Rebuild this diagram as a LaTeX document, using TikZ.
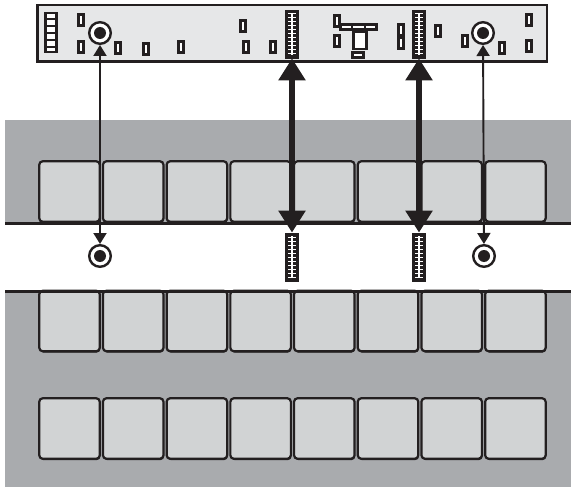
\documentclass[tikz,border=0pt]{standalone}
\usetikzlibrary{arrows.meta,shadows}
\definecolor{bandgray}{HTML}{A9ABAE}
\definecolor{tilegray}{HTML}{D1D3D4}
\definecolor{panelgray}{HTML}{E6E7E8}
\definecolor{inkblack}{HTML}{231F20}
\tikzset{%
	tile/.style     = {draw=inkblack, line width=2.2pt, fill=tilegray, rounded corners=3.5pt,
		minimum width=60.5pt, minimum height=60.5pt, inner sep=0pt, outer sep=0pt,
		drop shadow={shadow xshift=.6pt, shadow yshift=-1.3pt, fill=inkblack, opacity=1}},
	pin/.style      = {draw=inkblack, line width=2.6pt, fill=white, minimum width=5.4pt,
		minimum height=11.4pt, inner sep=0pt, outer sep=0pt},
	slot/.style     = {draw=inkblack, line width=2.6pt, fill=white, inner sep=0pt, outer sep=0pt},
	socket/.style   = {draw=inkblack, circle, line width=2.4pt, fill=white, minimum size=21.6pt,
		inner sep=0pt, outer sep=1.2pt},
	bar/.style      = {draw=inkblack, line width=.8pt, fill=inkblack, minimum width=13pt,
		minimum height=48pt, inner sep=0pt, outer sep=.4pt},
	thinlink/.style = {draw=inkblack, line width=1.9pt, {Triangle[length=11pt,width=13pt]}-{Triangle[length=11pt,width=13pt]}},
	fatlink/.style  = {draw=inkblack, line width=5.5pt, {Triangle[length=22pt,width=26pt]}-{Triangle[length=22pt,width=26pt]}}
}
\newcommand{\ladder}[3]{% name, x, y
	\node[bar] (#1) at (#2,#3) {};
	\draw[white, line width=1.5pt] (#2,#3-21) -- (#2,#3+21);
	\foreach \k in {-20,-16,...,20}
		\draw[white, line width=1pt] (#2-3.8,#3+\k) -- (#2+3.8,#3+\k);
}
\newcommand{\target}[3]{% name, x, y
	\node[socket] (#1) at (#2,#3) {};
	\fill[inkblack] (#2,#3) circle (6);
}

\begin{document}
\begin{tikzpicture}[x=1pt,y=-1pt]
	\useasboundingbox (0,0) rectangle (571,487);

	% grey bands
	\fill[bandgray] (5,120) rectangle (571,223);
	\fill[bandgray] (5,291) rectangle (571,487);

	% tiles
	\foreach \i in {0,...,7} {
		\node[tile] (upper\i) at (69.5+63.7*\i,191.5) {};
		\node[tile] (middle\i) at (69.5+63.7*\i,321) {};
		\node[tile] (lower\i) at (69.5+63.7*\i,428.5) {};
	}
	\draw[inkblack, line width=3pt] (5,223.5) -- (571,223.5);
	\draw[inkblack, line width=3pt] (5,291.5) -- (571,291.5);

	% panel
	\node[draw=inkblack, line width=2.5pt, fill=panelgray, minimum width=509.5pt, minimum height=56.5pt,
		inner sep=0pt] (panel) at (292,33.5) {};

	% parts on the panel
	\node[slot, minimum width=11pt, minimum height=39pt] (stack) at (51,32.5) {};
	\foreach \y in {19,26,33,40,47}
		\draw[inkblack, line width=2.6pt] (45,\y) -- (57,\y);
	\foreach \x/\y [count=\n] in {81/20, 81/47, 118/48, 146/49, 181/47, 243/26, 246/47, 273/47,
		337/21, 337/41, 401/30, 401/43, 438/31, 465/41, 502/48, 529/20, 529/46}
		\node[pin] (pin\n) at (\x,\y) {};
	\node[slot, minimum width=36pt, minimum height=5pt] (crossbar) at (358.5,27) {};
	\draw[inkblack, line width=2.6pt] (352,24) -- (352,30) (365,24) -- (365,30);
	\node[slot, minimum width=13pt, minimum height=17pt] (body) at (360,40.5) {};
	\node[slot, minimum width=11.5pt, minimum height=5pt] (foot) at (358,55) {};

	\target{socketL}{100}{33}
	\target{socketR}{483}{33}
	\target{portL}{100}{256}
	\target{portR}{484}{256}
	\ladder{barA}{292}{34}
	\ladder{barB}{419}{34}
	\ladder{busA}{292}{257}
	\ladder{busB}{419}{257}

	% links
	\draw[thinlink] (socketL) -- (portL);
	\draw[thinlink] (socketR) -- (portR);
	\draw[fatlink] (barA) -- (busA);
	\draw[fatlink] (barB) -- (busB);
\end{tikzpicture}
\end{document}
